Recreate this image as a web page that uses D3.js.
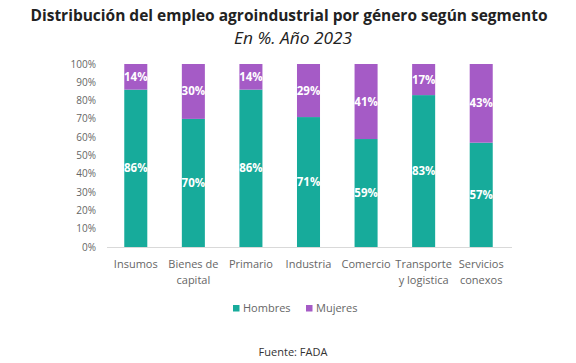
<html>
<!DOCTYPE html>
<meta charset="utf-8" />
<style>
  body { margin: 0; background: #fff; }
  text { font-family: "Open Sans", sans-serif; }
</style>
<body>
<script src="https://d3js.org/d3.v7.min.js"></script>
<script>
  let width = 576, height = 363;

  let segments = [["Insumos"], ["Bienes de", "capital"], ["Primario"], ["Industria"],
    ["Comercio"], ["Transporte", "y logistica"], ["Servicios", "conexos"]];
  let hombres = [86, 70, 86, 71, 59, 83, 57];
  let mujeres = [14, 30, 14, 29, 41, 17, 43];
  let yTicks = [0, 10, 20, 30, 40, 50, 60, 70, 80, 90, 100];

  let colH = "#17ab9b", colM = "#a55bc6";

  let svg = d3.select("body").append("svg")
    .attr("width", width).attr("height", height);

  // titles
  svg.append("text").attr("x", 289).attr("y", 21).attr("text-anchor", "middle")
    .attr("font-size", 15.5).attr("font-weight", "bold").attr("fill", "#222")
    .attr("textLength", 517).attr("lengthAdjust", "spacingAndGlyphs")
    .text("Distribución del empleo agroindustrial por género según segmento");
  svg.append("text").attr("x", 293).attr("y", 44).attr("text-anchor", "middle")
    .attr("font-size", 16).attr("font-style", "italic").attr("fill", "#222")
    .attr("textLength", 118).attr("lengthAdjust", "spacingAndGlyphs")
    .text("En %. Año 2023");

  let x = d3.scaleBand().domain(d3.range(segments.length))
    .range([107, 510]).paddingInner(0.6).paddingOuter(0.3);
  let y = d3.scaleLinear().domain([0, 100]).range([247, 64]);

  // y axis labels
  svg.append("g").selectAll("text").data(yTicks).join("text")
    .attr("x", 96).attr("y", d => y(d) + 3.5).attr("text-anchor", "end")
    .attr("font-size", 10).attr("fill", "#666").text(d => d + "%");

  // baseline
  svg.append("line").attr("x1", 107).attr("x2", 512)
    .attr("y1", y(0) + 0.5).attr("y2", y(0) + 0.5)
    .attr("stroke", "#d9d9d9").attr("stroke-width", 1);

  let g = svg.append("g");
  g.selectAll(".h").data(hombres).join("rect").attr("class", "h")
    .attr("x", (d, i) => x(i)).attr("width", x.bandwidth())
    .attr("y", d => y(d)).attr("height", d => y(0) - y(d)).attr("fill", colH);
  g.selectAll(".m").data(mujeres).join("rect").attr("class", "m")
    .attr("x", (d, i) => x(i)).attr("width", x.bandwidth())
    .attr("y", y(100)).attr("height", (d, i) => y(hombres[i]) - y(100)).attr("fill", colM);

  // value labels
  g.selectAll(".lh").data(hombres).join("text").attr("class", "lh")
    .attr("x", (d, i) => x(i) + x.bandwidth() / 2).attr("y", d => y(d / 2) + 4)
    .attr("text-anchor", "middle").attr("font-size", 11.5).attr("font-weight", "bold")
    .attr("fill", "#fff").text(d => d + "%");
  g.selectAll(".lm").data(mujeres).join("text").attr("class", "lm")
    .attr("x", (d, i) => x(i) + x.bandwidth() / 2).attr("y", (d, i) => y(hombres[i] + d / 2) + 4)
    .attr("text-anchor", "middle").attr("font-size", 11.5).attr("font-weight", "bold")
    .attr("fill", "#fff").text(d => d + "%");

  // x labels
  let xl = svg.append("g").selectAll("text").data(segments).join("text")
    .attr("text-anchor", "middle").attr("font-size", 11).attr("fill", "#666");
  xl.selectAll("tspan").data((d, i) => d.map(t => ({ t, i }))).join("tspan")
    .attr("x", d => x(d.i) + x.bandwidth() / 2)
    .attr("y", (d, j) => 268 + j * 15.5)
    .text(d => d.t);

  // legend
  let legend = [["Hombres", colH, 233], ["Mujeres", colM, 306]];
  let lg = svg.append("g").selectAll("g").data(legend).join("g");
  lg.append("rect").attr("x", d => d[2]).attr("y", 305).attr("width", 6.5).attr("height", 6.5)
    .attr("fill", d => d[1]);
  lg.append("text").attr("x", d => d[2] + 10).attr("y", 312).attr("font-size", 11)
    .attr("fill", "#666").text(d => d[0]);

  svg.append("text").attr("x", 293).attr("y", 356).attr("text-anchor", "middle")
    .attr("font-size", 11).attr("fill", "#333").text("Fuente: FADA");
</script>
</body>
</html>
